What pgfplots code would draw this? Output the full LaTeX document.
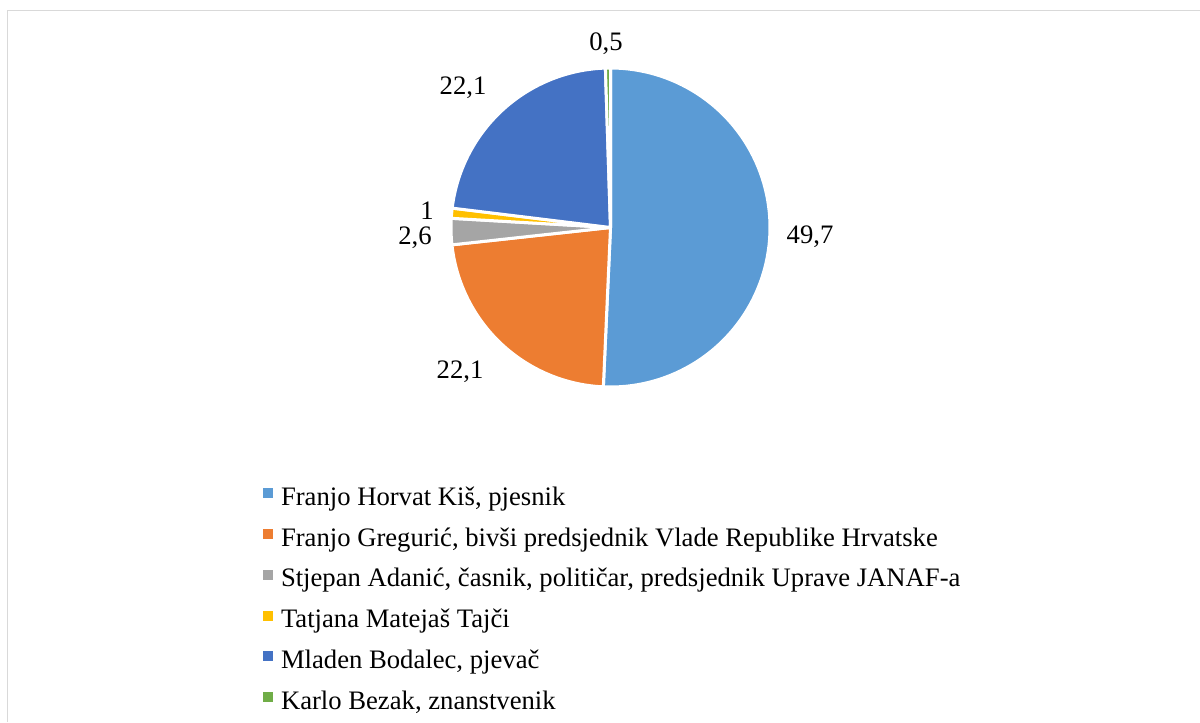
\documentclass[border=0pt]{standalone}
\usepackage{fontspec}
\setmainfont{Liberation Serif}
\usepackage{pgfplots}
\pgfplotsset{compat=1.18}
\definecolor{cA}{HTML}{5B9BD5}
\definecolor{cB}{HTML}{ED7D31}
\definecolor{cC}{HTML}{A5A5A5}
\definecolor{cD}{HTML}{FFC000}
\definecolor{cE}{HTML}{4472C4}
\definecolor{cF}{HTML}{70AD47}
\definecolor{frame}{HTML}{D9D9D9}
% data (share, %)
\def\vA{49.7}\def\vB{22.1}\def\vC{2.6}\def\vD{1}\def\vE{22.1}\def\vF{0.5}
\pgfmathsetmacro{\tot}{\vA+\vB+\vC+\vD+\vE+\vF}
\pgfmathsetmacro{\k}{360/\tot}
\pgfmathsetmacro{\aA}{90}
\pgfmathsetmacro{\aB}{\aA-\k*\vA}
\pgfmathsetmacro{\aC}{\aB-\k*\vB}
\pgfmathsetmacro{\aD}{\aC-\k*\vC}
\pgfmathsetmacro{\aE}{\aD-\k*\vD}
\pgfmathsetmacro{\aF}{\aE-\k*\vE}
\pgfmathsetmacro{\aG}{\aF-\k*\vF}
\def\cx{610.5}\def\cy{494.5}\def\rr{159.5}
\newcommand{\slice}[3]{%
  \addplot[fill=#1, draw=white, line width=1.8pt, line join=round, domain=#3:#2, samples=90]
    ({\cx+\rr*cos(x)},{\cy+\rr*sin(x)}) -- (axis cs:\cx,\cy) -- cycle;}
\begin{document}
\begin{tikzpicture}
\begin{axis}[
  scale only axis, width=720pt, height=433.2pt,
  xmin=0, xmax=1200, ymin=0, ymax=722,
  hide axis, clip=false,
  legend image code/.code={\fill[#1, draw=none] (0pt,0.5pt) rectangle (6pt,6.5pt);},
  legend cell align=left,
  legend style={at={(axis cs:263,236)}, anchor=north west, draw=none, fill=none,
    inner sep=0pt, outer sep=0pt, font=\fontsize{16}{19}\selectfont,
    nodes={inner sep=0pt, text height=11.5pt, text depth=4pt},
    row sep=9pt,
    /tikz/every odd column/.append style={column sep=4.8pt}},
]
\draw[frame, line width=0.9pt] (axis cs:7.5,0) -- (axis cs:7.5,711.5) -- (axis cs:1200,711.5);
\slice{cA}{\aA}{\aB}
\addlegendentry{Franjo Horvat Kiš, pjesnik}
\slice{cB}{\aB}{\aC}
\addlegendentry{Franjo Gregurić, bivši predsjednik Vlade Republike Hrvatske}
\slice{cC}{\aC}{\aD}
\addlegendentry{Stjepan Adanić, časnik, političar, predsjednik Uprave JANAF-a}
\slice{cD}{\aD}{\aE}
\addlegendentry{Tatjana Matejaš Tajči}
\slice{cE}{\aE}{\aF}
\addlegendentry{Mladen Bodalec, pjevač}
\slice{cF}{\aF}{\aG}
\addlegendentry{Karlo Bezak, znanstvenik}
\begin{scope}[every node/.style={font=\fontsize{16}{19}\selectfont, inner sep=0pt, anchor=base}]
\node at (axis cs:810,479) {49,7};
\node at (axis cs:460,344) {22,1};
\node at (axis cs:415,478) {2,6};
\node at (axis cs:427,503) {1};
\node at (axis cs:463,627) {22,1};
\node at (axis cs:606,671) {0,5};
\end{scope}
\end{axis}
\pgfresetboundingbox
\useasboundingbox (current axis.south west) rectangle (current axis.north east);
\end{tikzpicture}
\end{document}
